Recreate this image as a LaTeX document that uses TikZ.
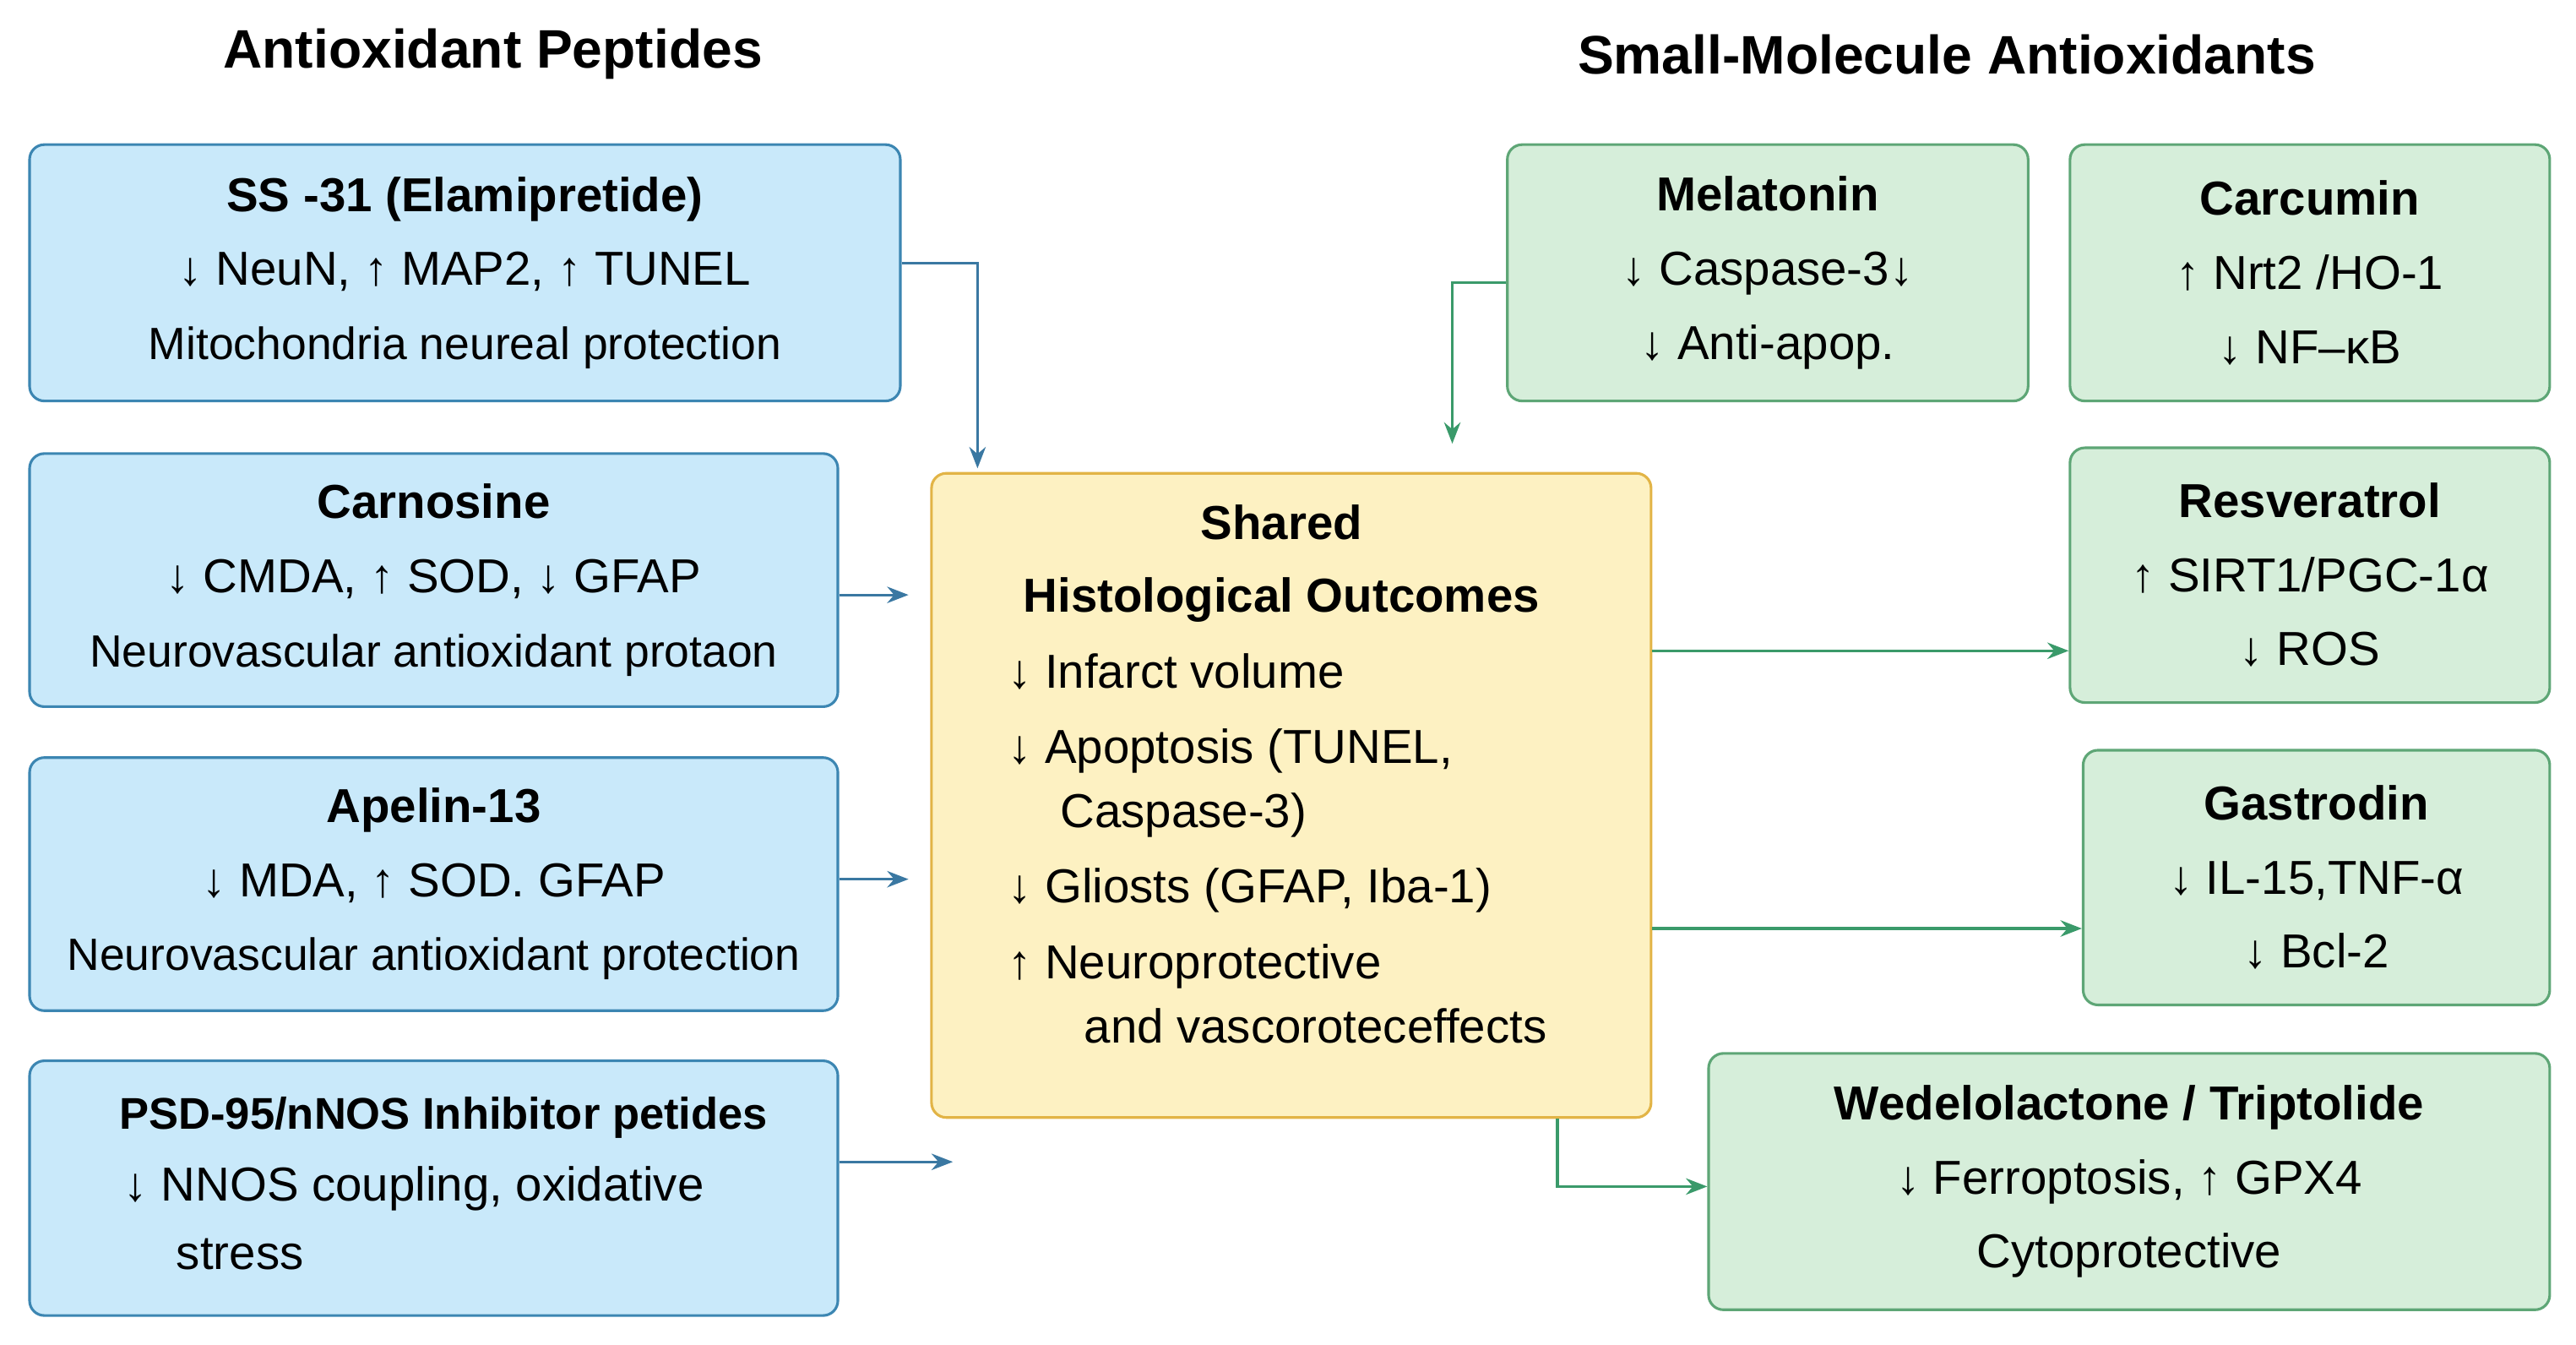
\documentclass[tikz,border=0pt]{standalone}
\usepackage{fontspec}
\setmainfont{Liberation Sans}
\usetikzlibrary{arrows.meta}
\definecolor{bfill}{HTML}{C9E9FA}\definecolor{bdraw}{HTML}{3C86B2}
\definecolor{gfill}{HTML}{D6EEDA}\definecolor{gdraw}{HTML}{5EA676}
\definecolor{yfill}{HTML}{FDF1C2}\definecolor{ydraw}{HTML}{E2B446}
\definecolor{barr}{HTML}{3A78A2}\definecolor{garr}{HTML}{3A9A6A}
\begin{document}
\begin{tikzpicture}[x=1pt,y=-1pt,
 box/.style={rounded corners=9pt,line width=1.6pt,align=center,inner sep=0pt,
   font=\fontsize{29}{45}\selectfont},
 bbox/.style={box,fill=bfill,draw=bdraw},
 gbox/.style={box,fill=gfill,draw=gdraw},
 ba/.style={draw=barr,line width=1.6pt,-{Stealth[length=13pt,width=10pt]}},
 ga/.style={draw=garr,line width=1.6pt,-{Stealth[length=13pt,width=10pt]}},
 hdr/.style={font=\fontsize{33}{38}\selectfont\bfseries}]
\useasboundingbox (0,0) rectangle (1568,818);
\newcommand{\sm}{\fontsize{27.5}{45}\selectfont}
\node[hdr] (h1) at (300,33) {Antioxidant Peptides};
\node[hdr] (h2) at (1185,33) {Small-Molecule Antioxidants};
\node[bbox,minimum width=530,minimum height=156] (ss) at (283,166)
 {\textbf{SS -31 (Elamipretide)}\\ ↓ NeuN, ↑ MAP2, ↑ TUNEL\\ {\sm Mitochondria neureal protection}};
\node[bbox,minimum width=492,minimum height=154] (ca) at (264,353)
 {\textbf{Carnosine}\\ ↓ CMDA, ↑ SOD, ↓ GFAP\\ {\sm Neurovascular antioxidant protaon}};
\node[bbox,minimum width=492,minimum height=154] (ap) at (264,538)
 {\textbf{Apelin-13}\\ ↓ MDA, ↑ SOD. GFAP\\ {\sm Neurovascular antioxidant protection}};
\node[bbox,minimum width=492,minimum height=155] (psd) at (264,723) {};
\node[font=\fontsize{27}{40}\selectfont\bfseries] (psdt) at (270,680) {PSD-95/nNOS Inhibitor petides};
\node[font=\fontsize{29}{42}\selectfont,align=left,anchor=north west] (psdb) at (72,706) {↓ NNOS coupling, oxidative\\ \hspace*{1.1em}stress};
\node[box,fill=yfill,draw=ydraw,minimum width=438,minimum height=392] (sh) at (786,484) {};
\node[font=\fontsize{29}{44}\selectfont\bfseries,align=center] (sht) at (780,343) {Shared\\Histological Outcomes};
\node[font=\fontsize{29}{46}\selectfont,align=left,anchor=north west] (shl) at (610,394)
 {↓ Infarct volume\\ ↓ Apoptosis (TUNEL,\\[-7pt] \hspace*{1.1em}Caspase-3)\\ ↓ Gliosts (GFAP, Iba-1)\\ ↑ Neuroprotective\\[-7pt] \hspace*{1.6em}and vascoroteceffects};
\node[gbox,minimum width=317,minimum height=156] (me) at (1076,166)
 {\textbf{Melatonin}\\ ↓ Caspase-3↓\\ ↓ Anti-apop.};
\node[gbox,minimum width=292,minimum height=156] (cu) at (1406,166)
 {\textbf{Carcumin}\\ ↑ Nrt2 /HO-1\\ ↓ NF–κB};
\node[gbox,minimum width=292,minimum height=155] (re) at (1406,350)
 {\textbf{Resveratrol}\\ ↑ SIRT1/PGC-1α\\ ↓ ROS};
\node[gbox,minimum width=284,minimum height=155] (ga) at (1410,534)
 {\textbf{Gastrodin}\\ ↓ IL-15,TNF-α\\ ↓ Bcl-2};
\node[gbox,minimum width=512,minimum height=156] (we) at (1296,719)
 {\textbf{Wedelolactone / Triptolide}\\ ↓ Ferroptosis, ↑ GPX4\\ Cytoprotective};
\coordinate (c1) at (595,285);
\coordinate (c2) at (553,362);
\coordinate (c3) at (553,535);
\coordinate (c4) at (580,707);
\coordinate (c5) at (884,270);
\draw[ba] (ss.east |- 0,160) -| (c1);
\draw[ba] (ca.east |- c2) -- (c2);
\draw[ba] (ap.east |- c3) -- (c3);
\draw[ba] (psd.east |- c4) -- (c4);
\draw[ga] (me.west |- 0,172) -| (c5);
\draw[ga] (sh.east |- 0,396) -- (re.west |- 0,396);
\draw[ga] (sh.east |- 0,565) -- (ga.west |- 0,565);
\draw[ga] (sh.south -| 948,0) |- (we.west |- 0,722);
\end{tikzpicture}
\end{document}
